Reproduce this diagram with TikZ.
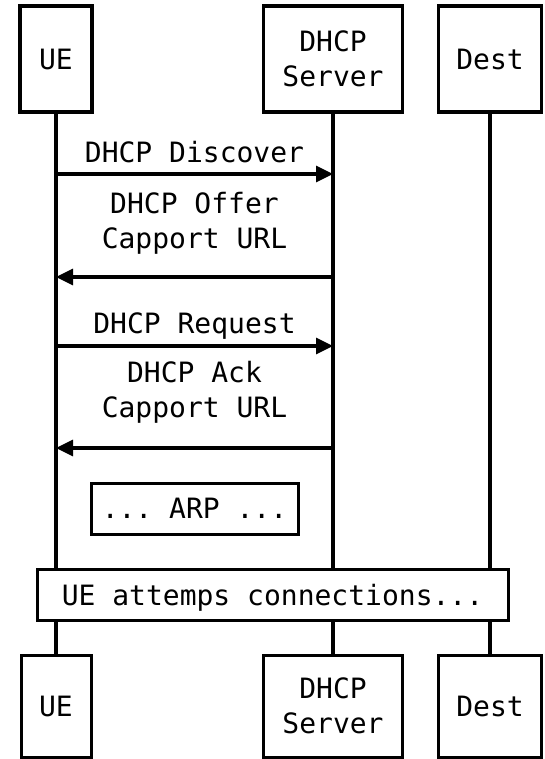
\documentclass[tikz,border=0pt]{standalone}
\usepackage{fontspec}
\setmonofont{DejaVu Sans Mono}
\usetikzlibrary{arrows.meta}
\begin{document}
\begin{tikzpicture}[x=1pt,y=-1pt,
  every node/.style={font=\ttfamily\fontsize{28}{34.5}\selectfont, inner sep=0pt},
  actortop/.style={draw, line width=3.6pt, fill=white, align=center},
  actorbot/.style={draw, line width=3pt, fill=white, align=center},
  notebox/.style={draw, line width=3pt, fill=white, text depth=0pt},
  life/.style={line width=3.1pt},
  msg/.style={line width=3.1pt, -{Triangle[length=17pt,width=16pt]}},
  lbl/.style={align=center, anchor=base}]
\useasboundingbox (0,0) rectangle (544,759);

% participants, top row
\node[actortop, minimum width=72pt,  minimum height=106pt] (ueT) at (56,59)  {UE};
\node[actortop, minimum width=139pt, minimum height=106pt] (dhT) at (333,59) {DHCP\\Server};
\node[actortop, minimum width=103pt, minimum height=106pt] (deT) at (490,59) {Dest};

% participants, bottom row
\node[actorbot, minimum width=70pt,  minimum height=102pt] (ueB) at (56,706)  {UE};
\node[actorbot, minimum width=139pt, minimum height=102pt] (dhB) at (333,706) {DHCP\\Server};
\node[actorbot, minimum width=103pt, minimum height=102pt] (deB) at (490,706) {Dest};

% lifelines
\draw[life] (ueT.south) -- (ueB.north);
\draw[life] (dhT.south) -- (dhB.north);
\draw[life] (deT.south) -- (deB.north);

% message end points on the lifelines
\coordinate (u1) at (56,174);  \coordinate (s1) at (333,174);
\coordinate (u2) at (56,277);  \coordinate (s2) at (333,277);
\coordinate (u3) at (56,346);  \coordinate (s3) at (333,346);
\coordinate (u4) at (56,448);  \coordinate (s4) at (333,448);

% messages (multi-line labels are placed by their last baseline)
\draw[msg] (u1) -- (s1);
\node[lbl] (l1) at (194.5,163) {DHCP Discover};
\draw[msg] (s2) -- (u2);
\node[lbl] (l2) at (194.5,248) {DHCP Offer\\Capport URL};
\draw[msg] (u3) -- (s3);
\node[lbl] (l3) at (194.5,333) {DHCP Request};
\draw[msg] (s4) -- (u4);
\node[lbl] (l4) at (194.5,417) {DHCP Ack\\Capport URL};

% notes
\node[notebox, minimum width=207pt, minimum height=51pt] (arp) at (194.5,508.5) {... ARP ...};
\node[notebox, minimum width=471pt, minimum height=51pt] (conn) at (272.5,594.5) {UE attemps connections...};
\end{tikzpicture}
\end{document}
